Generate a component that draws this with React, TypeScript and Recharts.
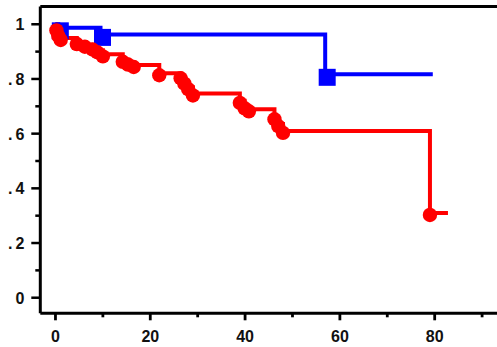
import React from "react";
import { ComposedChart, Line, XAxis, YAxis, ReferenceLine } from "recharts";

// survival curves (time, survival after each step)
const BLUE_T = [0, 0.6, 9.5, 56.9, 79.6];
const BLUE_S = [1, 0.987, 0.963, 0.817, 0.817];

const RED_T = [
  0, 0.2, 0.6, 1.1, 4.5, 6.2, 7.8, 8.8, 10.0, 14.2, 15.3, 16.5, 21.9, 26.4,
  27.2, 28.0, 29.0, 38.9, 39.9, 40.8, 46.2, 47.0, 48.0, 79.0, 82.8,
];
const RED_S = [
  1, 0.985, 0.965, 0.95, 0.935, 0.925, 0.915, 0.905, 0.89, 0.87, 0.86, 0.851,
  0.821, 0.81, 0.79, 0.77, 0.747, 0.72, 0.7, 0.689, 0.66, 0.635, 0.61, 0.31,
  0.31,
];

const X_TICKS = [0, 10, 20, 30, 40, 50, 60, 70, 80, 90];
const Y_TICKS = [0, 0.1, 0.2, 0.3, 0.4, 0.5, 0.6, 0.7, 0.8, 0.9, 1];
const Y_LABELS = ["0", ".2", ".4", ".6", ".8", "1"];

const X_DOMAIN: [number, number] = [-3.2, 94.2];
const Y_DOMAIN: [number, number] = [-0.057, 1.065];

const FONT = "'Liberation Sans', Arial, sans-serif";

// first and last points are not events, everything in between gets a marker
const toSeries = (times: number[], surv: number[]) =>
  times.map((t, i) => ({
    t,
    s: surv[i],
    mark: i > 0 && i < times.length - 1,
  }));

const blueData = toSeries(BLUE_T, BLUE_S);
const redData = toSeries(RED_T, RED_S);

const renderBlueDot = (props: any) => {
  const { cx, cy, payload, index } = props;
  if (!payload.mark) return <g key={`b${index}`} />;
  return (
    <rect
      key={`b${index}`}
      x={cx + 2 - 8.5}
      y={cy + 3 - 8.5}
      width={17}
      height={17}
      fill="#0000ff"
    />
  );
};

const renderRedDot = (props: any) => {
  const { cx, cy, payload, index } = props;
  if (!payload.mark) return <g key={`r${index}`} />;
  return <circle key={`r${index}`} cx={cx} cy={cy + 2} r={7.2} fill="#ff0000" />;
};

const YTick = (props: any) => {
  const { x, y, payload } = props;
  const step = Math.round(payload.value * 10);
  const major = step % 2 === 0;
  const label = Y_LABELS[step / 2];
  return (
    <g>
      <line
        x1={x}
        x2={x - (major ? 9 : 5)}
        y1={y}
        y2={y}
        stroke="#000"
        strokeWidth={2.5}
      />
      {major ? (
        <text
          x={x - 16}
          y={y + 6}
          textAnchor="end"
          fontFamily={FONT}
          fontWeight="bold"
          fontSize={16}
          fill="#111"
        >
          {label.startsWith(".") ? (
            <>
              <tspan>.</tspan>
              <tspan dx={3}>{label.slice(1)}</tspan>
            </>
          ) : (
            label
          )}
        </text>
      ) : null}
    </g>
  );
};

const XTick = (props: any) => {
  const { x, y, payload } = props;
  const major = payload.value % 20 === 0;
  return (
    <g>
      <line
        x1={x}
        x2={x}
        y1={y}
        y2={y + (major ? 7 : 4)}
        stroke="#000"
        strokeWidth={2.8}
      />
      {major ? (
        <text
          x={x}
          y={y + 29}
          textAnchor="middle"
          fontFamily={FONT}
          fontWeight="bold"
          fontSize={16}
          fill="#111"
        >
          {payload.value}
        </text>
      ) : null}
    </g>
  );
};

export default function App() {
  return (
    <div
      style={{
        position: "absolute",
        left: 0,
        top: 0,
        width: 497,
        height: 347,
        overflow: "hidden",
        background: "#fff",
      }}
    >
      <ComposedChart
        width={502}
        height={347}
        margin={{ top: 6.5, right: 0, bottom: 0, left: 0 }}
      >
        <XAxis
          type="number"
          dataKey="t"
          domain={X_DOMAIN}
          ticks={X_TICKS}
          allowDataOverflow
          height={33.7}
          tickSize={0}
          tickMargin={0}
          tickLine={false}
          axisLine={{ stroke: "#000", strokeWidth: 3 }}
          tick={<XTick />}
        />
        <YAxis
          type="number"
          dataKey="s"
          domain={Y_DOMAIN}
          ticks={Y_TICKS}
          allowDataOverflow
          width={40.3}
          tickSize={0}
          tickMargin={0}
          tickLine={false}
          axisLine={{ stroke: "#000", strokeWidth: 3 }}
          tick={<YTick />}
        />
        <ReferenceLine y={Y_DOMAIN[1]} stroke="#000" strokeWidth={3} />
        <Line
          data={blueData}
          dataKey="s"
          type="stepAfter"
          stroke="#0000ff"
          strokeWidth={4}
          dot={renderBlueDot}
          activeDot={false}
          isAnimationActive={false}
        />
        <Line
          data={redData}
          dataKey="s"
          type="stepAfter"
          stroke="#ff0000"
          strokeWidth={4}
          dot={renderRedDot}
          activeDot={false}
          isAnimationActive={false}
        />
      </ComposedChart>
    </div>
  );
}
